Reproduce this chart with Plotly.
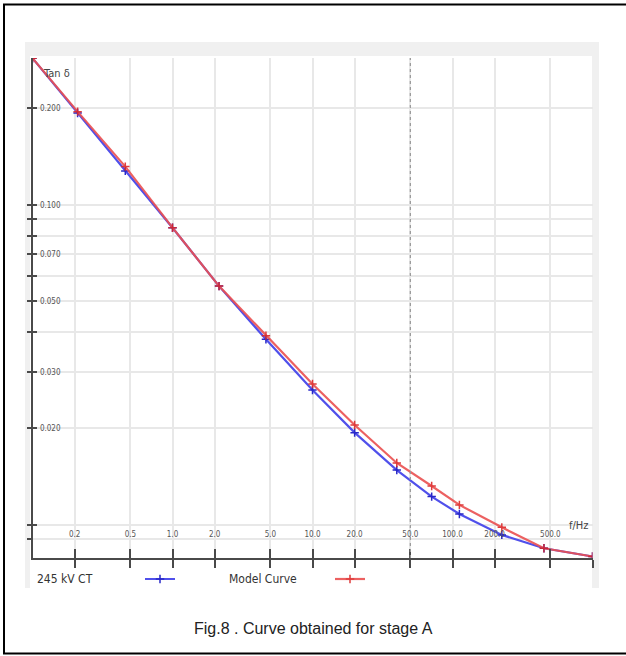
import plotly.graph_objects as go

# ---- data -------------------------------------------------------------
FREQ_HZ = [0.1, 0.21, 0.46, 1.0, 2.15, 4.65, 10, 20, 40, 71, 112, 225, 450, 1000]
TAN_DELTA_CT = [0.287, 0.1936, 0.1276, 0.0848, 0.0557, 0.0380, 0.02637, 0.01941,
                0.01483, 0.01225, 0.01081, 0.00930, 0.00845, 0.00796]
TAN_DELTA_MODEL = [0.287, 0.1954, 0.1316, 0.0848, 0.0557, 0.0390, 0.02755, 0.02051,
                   0.01560, 0.01322, 0.01154, 0.00982, 0.00845, 0.00796]
SERIES_NAMES = ["245 kV CT", "Model Curve"]

X_TICKS = [0.2, 0.5, 1.0, 2.0, 5.0, 10, 20, 50, 100, 200, 500, 1000]
X_TICK_TEXT = ["0.2", "0.5", "1.0", "2.0", "5.0", "10.0", "20.0", "50.0",
               "100.0", "200.0", "500.0", ""]
Y_TICKS = [0.2, 0.1, 0.09, 0.08, 0.07, 0.06, 0.05, 0.04, 0.03, 0.02, 0.01, 0.009]
Y_TICK_TEXT = ["0.200", "0.100", "", "", "0.070", "", "0.050", "", "0.030",
               "0.020", "", ""]
X_RANGE_LOG = [-1.0, 3.0]
Y_RANGE_LOG = [-2.1037, -0.5414]
MAINS_FREQ = 50
CAPTION = "Fig.8 . Curve obtained for stage A"

# ---- layout helpers ---------------------------------------------------
W, H = 626, 656


def px_x(p):
    return p / W


def px_y(p):
    return 1 - p / H


NARROW = "DejaVu Sans Condensed, Liberation Sans Narrow, Arial Narrow, sans-serif"
AXIS_COL = "#4a4a4a"
GRID_COL = "#e8e8e8"
BLUE = "rgb(80,80,235)"
RED = "rgb(235,80,80)"

XDOM = [px_x(32.5), px_x(592.5)]
YDOM = [px_y(558), px_y(58)]

fig = go.Figure()

# measured curve on the base axes, model curve on the overlaid pair
fig.add_trace(go.Scatter(
    x=FREQ_HZ, y=TAN_DELTA_CT, name=SERIES_NAMES[0], mode="lines+markers",
    line=dict(color=BLUE, width=2.2),
    marker=dict(symbol="cross-thin", size=6, line=dict(color="rgb(40,40,200)", width=1.5)),
))
fig.add_trace(go.Scatter(
    x=FREQ_HZ, y=TAN_DELTA_MODEL, name=SERIES_NAMES[1], mode="lines+markers",
    xaxis="x2", yaxis="y2",
    line=dict(color=RED, width=2.2), opacity=0.9,
    marker=dict(symbol="cross-thin", size=6, line=dict(color="rgb(220,40,40)", width=1.5)),
))

shapes = [
    # grey chart panel and its white drawing area
    dict(type="rect", xref="paper", yref="paper", layer="below",
         x0=px_x(25), x1=px_x(599), y0=px_y(588), y1=px_y(42),
         fillcolor="#f0f0f0", line=dict(width=0)),
    dict(type="rect", xref="paper", yref="paper", layer="below",
         x0=px_x(30), x1=px_x(592), y0=px_y(588), y1=px_y(56),
         fillcolor="white", line=dict(width=0)),
    # figure frame
    dict(type="rect", xref="paper", yref="paper", layer="above",
         x0=px_x(4), x1=px_x(640), y0=px_y(653.5), y1=px_y(4.5),
         line=dict(color="black", width=2)),
    # mains-frequency marker
    dict(type="line", xref="x", yref="paper", layer="above",
         x0=MAINS_FREQ, x1=MAINS_FREQ, y0=YDOM[0], y1=YDOM[1],
         line=dict(color="#9a9a9a", width=1.2, dash="dot")),
]

tick_font = dict(family=NARROW, size=8, color="#555")

fig.update_layout(
    width=W, height=H,
    margin=dict(l=0, r=0, t=0, b=0),
    paper_bgcolor="white",
    plot_bgcolor="rgba(0,0,0,0)",
    shapes=shapes,
    xaxis=dict(
        type="log", range=X_RANGE_LOG, domain=XDOM, anchor="y",
        tickvals=X_TICKS, ticktext=X_TICK_TEXT, showticklabels=False,
        ticks="outside", ticklen=8, tickwidth=1.5, tickcolor=AXIS_COL,
        showline=True, linecolor=AXIS_COL, linewidth=2,
        showgrid=True, gridcolor=GRID_COL, gridwidth=2, zeroline=False,
    ),
    xaxis2=dict(
        type="log", range=X_RANGE_LOG, domain=XDOM, anchor="y2", overlaying="x",
        tickvals=X_TICKS, ticktext=X_TICK_TEXT, showticklabels=True,
        ticks="inside", ticklen=9, tickwidth=1.5, tickcolor=AXIS_COL,
        ticklabelposition="inside", ticklabelstandoff=9, tickfont=tick_font,
        showline=False, showgrid=False, zeroline=False,
    ),
    yaxis=dict(
        type="log", range=Y_RANGE_LOG, domain=YDOM, anchor="x",
        tickvals=Y_TICKS, ticktext=Y_TICK_TEXT, showticklabels=False,
        ticks="outside", ticklen=4, tickwidth=1.5, tickcolor=AXIS_COL,
        showline=True, linecolor=AXIS_COL, linewidth=2,
        showgrid=True, gridcolor=GRID_COL, gridwidth=2, zeroline=False,
    ),
    yaxis2=dict(
        type="log", range=Y_RANGE_LOG, domain=YDOM, anchor="x2", overlaying="y",
        side="left",
        tickvals=Y_TICKS, ticktext=Y_TICK_TEXT, showticklabels=True,
        ticks="inside", ticklen=4, tickwidth=1.5, tickcolor=AXIS_COL,
        ticklabelposition="inside", ticklabelstandoff=2, tickfont=tick_font,
        showline=False, showgrid=False, zeroline=False,
    ),
    showlegend=True,
    legend=dict(
        orientation="h", x=px_x(140), xanchor="left", y=px_y(579), yanchor="middle",
        entrywidth=145, entrywidthmode="pixels", bgcolor="rgba(0,0,0,0)",
        font=dict(family=NARROW, size=11, color="rgba(0,0,0,0)"),
    ),
    annotations=[
        dict(text="Tan δ", xref="paper", yref="paper", x=px_x(41), y=px_y(73),
             xanchor="left", yanchor="middle", showarrow=False,
             font=dict(family=NARROW, size=11, color="#444")),
        dict(text="f/Hz", xref="paper", yref="paper", x=px_x(567), y=px_y(525),
             xanchor="left", yanchor="middle", showarrow=False,
             font=dict(family=NARROW, size=11, color="#444")),
        dict(text=SERIES_NAMES[0], xref="paper", yref="paper", x=px_x(35), y=px_y(579),
             xanchor="left", yanchor="middle", showarrow=False,
             font=dict(family=NARROW, size=12, color="#333")),
        dict(text=SERIES_NAMES[1], xref="paper", yref="paper", x=px_x(227), y=px_y(579),
             xanchor="left", yanchor="middle", showarrow=False,
             font=dict(family=NARROW, size=12, color="#333")),
        dict(text=CAPTION, xref="paper", yref="paper", x=px_x(313), y=px_y(628),
             xanchor="center", yanchor="middle", showarrow=False,
             font=dict(family="Liberation Sans, Arial, sans-serif", size=16, color="#222")),
    ],
)

fig.write_html("out.html")
